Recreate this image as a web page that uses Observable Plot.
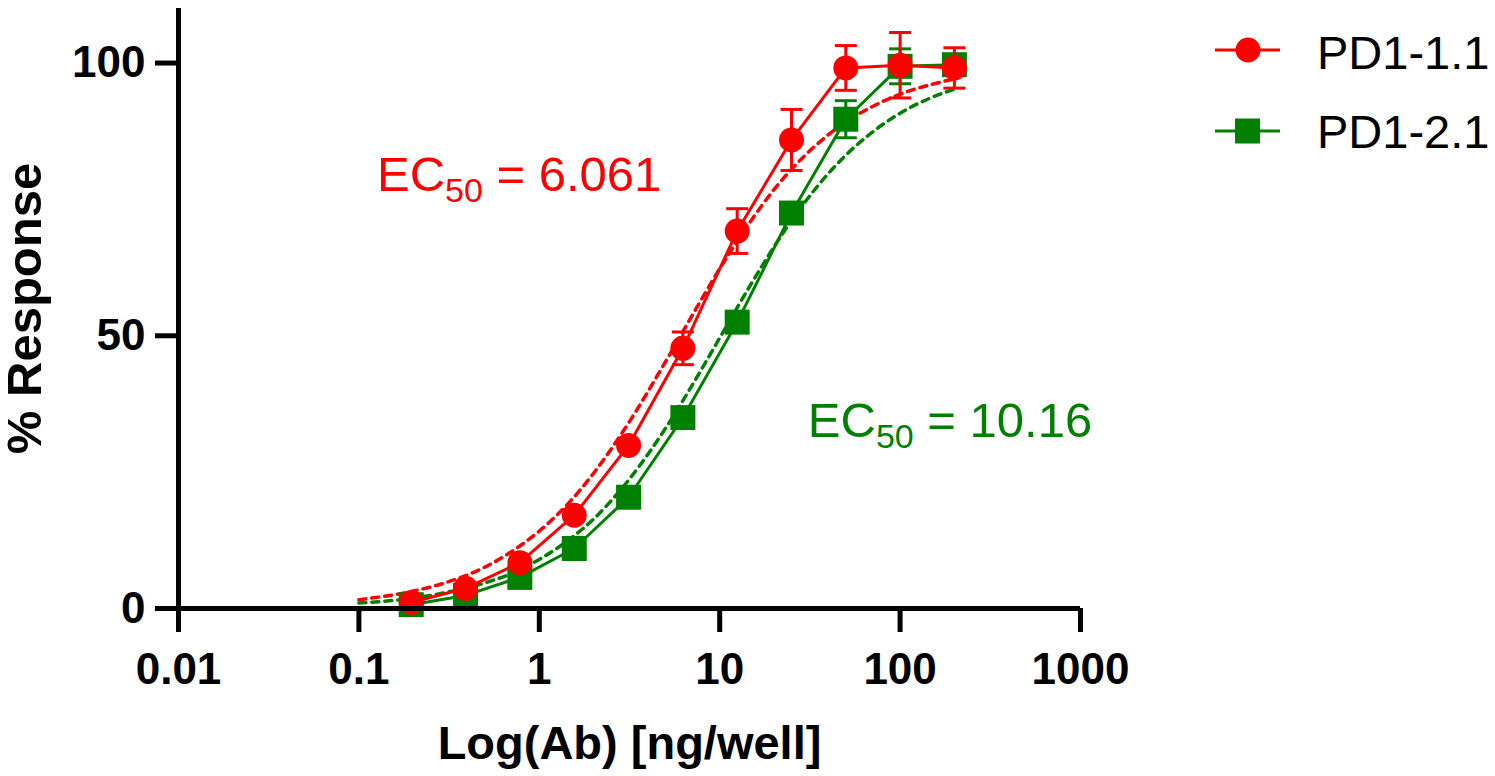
<!DOCTYPE html>
<html>
<head>
<meta charset="utf-8">
<script src="https://cdn.jsdelivr.net/npm/d3@7"></script>
<script src="https://cdn.jsdelivr.net/npm/@observablehq/plot@0.6"></script>
<style>
  html, body { margin: 0; padding: 0; background: #fff; }
  #wrap { position: relative; width: 1495px; height: 776px; }
  #legend { position: absolute; left: 0; top: 0; }
  text { font-family: "Liberation Sans", Arial, sans-serif; }
</style>
</head>
<body>
<div id="wrap"></div>
<script>
// ---- data ----
const conc = [0.195, 0.39, 0.78, 1.5625, 3.125, 6.25, 12.5, 25, 50, 100, 200];
const redMean = [1.1, 3.7, 8.4, 17.1, 29.9, 47.7, 69.2, 85.9, 99.1, 99.6, 99.1];
const redErr = [0, 0, 0, 0, 0, 3.0, 4.1, 5.6, 4.1, 6.0, 3.7];
const greenMean = [0.7, 2.4, 5.7, 11.0, 20.4, 35.0, 52.5, 72.5, 89.7, 99.4, 99.7];
const greenErr = [0, 0, 0, 0, 0, 0, 1.0, 0, 3.4, 3.2, 0.5];

const fitX = [0.1, 0.2, 0.3, 0.5, 0.7, 1, 1.5, 2, 3, 5, 7, 10, 15, 20, 30, 50, 70, 100, 150, 200];
const redFit = [1.6, 3.2, 4.7, 7.6, 10.4, 14.2, 19.8, 24.8, 33.1, 45.2, 53.6, 62.3, 71.2, 76.8, 83.2, 89.2, 92.0, 94.3, 96.1, 97.1];
const greenFit = [1.0, 1.9, 2.9, 4.7, 6.4, 9.0, 12.9, 16.4, 22.8, 33.0, 40.8, 49.6, 59.6, 66.3, 74.7, 83.1, 87.3, 90.8, 93.7, 95.2];

const seriesNames = ["PD1-1.1", "PD1-2.1"];
const seriesColors = ["#ff0000", "#008000"];
const xTicks = [0.01, 0.1, 1, 10, 100, 1000];
const yTicks = [0, 50, 100];
const ec50Labels = ["EC50 = 6.061", "EC50 = 10.16"];
const ec50Anchor = [{x: 0.126, y: 79.4}, {x: 30.8, y: 34.3}];

// ---- tables ----
const pts = (means, errs, s) => conc.map((x, i) => ({x, y: means[i], e: errs[i], s}));
const redPts = pts(redMean, redErr, 0);
const greenPts = pts(greenMean, greenErr, 1);
const fitRows = (vals, s) => fitX.map((x, i) => ({x, y: vals[i], s}));
const redFitRows = fitRows(redFit, 0);
const greenFitRows = fitRows(greenFit, 1);
const annots = ec50Labels.map((t, i) => ({t, x: ec50Anchor[i].x, y: ec50Anchor[i].y, s: i}));

const capSymbol = { draw(ctx) { ctx.moveTo(-11, 0); ctx.lineTo(11, 0); } };

function seriesMarks(p, s, symbol, r) {
  const c = seriesColors[s];
  const withErr = p.filter(d => d.e > 0);
  return [
    Plot.ruleX(withErr, {x: "x", y1: d => d.y - d.e, y2: d => d.y + d.e, stroke: c, strokeWidth: 3}),
    Plot.dot(withErr, {x: "x", y: d => d.y + d.e, symbol: capSymbol, stroke: c, strokeWidth: 3, fill: "none"}),
    Plot.dot(withErr, {x: "x", y: d => d.y - d.e, symbol: capSymbol, stroke: c, strokeWidth: 3, fill: "none"}),
    Plot.dot(p, {x: "x", y: "y", symbol, r, fill: c, stroke: "none"})
  ];
}

const chart = Plot.plot({
  width: 1495,
  height: 776,
  marginLeft: 178,
  marginRight: 415,
  marginTop: 8,
  marginBottom: 168,
  style: {fontFamily: "'Liberation Sans', Arial, sans-serif", background: "#fff", overflow: "visible"},
  x: {type: "log", domain: [0.01, 1000]},
  y: {domain: [0, 110]},
  marks: [
    Plot.line(greenFitRows, {x: "x", y: "y", stroke: seriesColors[1], strokeWidth: 3.5, strokeDasharray: "7,6", curve: "monotone-x"}),
    Plot.line(redFitRows, {x: "x", y: "y", stroke: seriesColors[0], strokeWidth: 3.5, strokeDasharray: "7,6", curve: "monotone-x"}),
    Plot.line(greenPts, {x: "x", y: "y", stroke: seriesColors[1], strokeWidth: 3}),
    Plot.line(redPts, {x: "x", y: "y", stroke: seriesColors[0], strokeWidth: 3}),
    ...seriesMarks(greenPts, 1, "square", 14.1),
    ...seriesMarks(redPts, 0, "circle", 12.5),
    Plot.ruleY([0], {stroke: "#000", strokeWidth: 5}),
    Plot.ruleX([0.01], {stroke: "#000", strokeWidth: 5}),
    Plot.axisX({ticks: xTicks, tickFormat: d => String(d), tickSize: 24, tickPadding: 20, fontSize: 44, fontWeight: "bold", strokeWidth: 5, stroke: "#000", fill: "#000", label: null}),
    Plot.axisY({ticks: yTicks, tickSize: 23, tickPadding: 10, fontSize: 44, fontWeight: "bold", strokeWidth: 5, stroke: "#000", fill: "#000", label: null}),
    Plot.text(["Log(Ab) [ng/well]"], {frameAnchor: "bottom", dy: 135, textAnchor: "middle", lineAnchor: "middle", fontSize: 47, fontWeight: "bold", fill: "#000"}),
    Plot.text(["% Response"], {frameAnchor: "left", dx: -153, rotate: -90, textAnchor: "middle", lineAnchor: "middle", fontSize: 49, fontWeight: "bold", fill: "#000"}),
    Plot.text(annots, {x: "x", y: "y", text: "t", textAnchor: "start", fontSize: 49, fill: d => seriesColors[d.s]})
  ]
});

// subscript "50" in EC50 labels
d3.select(chart).selectAll("text").filter(function() { return this.textContent.startsWith("EC50"); }).each(function() {
  const rest = this.textContent.slice(4);
  const sel = d3.select(this);
  sel.text(null);
  sel.append("tspan").text("EC");
  sel.append("tspan").attr("font-size", 34).attr("dy", 11).text("50");
  sel.append("tspan").attr("dy", -11).text(rest);
});

document.getElementById("wrap").appendChild(chart);

// legend
const lg = d3.select("#wrap").append("svg").attr("id", "legend").attr("width", 1495).attr("height", 200);
const legendRows = [{y: 50, ty: 53}, {y: 131, ty: 132}];
seriesNames.forEach((name, i) => {
  const c = seriesColors[i];
  const g = lg.append("g");
  g.append("line").attr("x1", 1215).attr("x2", 1280).attr("y1", legendRows[i].y).attr("y2", legendRows[i].y).attr("stroke", c).attr("stroke-width", 3);
  if (i === 0) g.append("circle").attr("cx", 1248).attr("cy", legendRows[i].y).attr("r", 12.5).attr("fill", c);
  else g.append("rect").attr("x", 1235).attr("y", legendRows[i].y - 12.5).attr("width", 25).attr("height", 25).attr("fill", c);
  g.append("text").attr("x", 1317).attr("y", legendRows[i].ty).attr("dy", "0.35em").attr("font-size", 47).attr("fill", "#000").text(name);
});
</script>
</body>
</html>
